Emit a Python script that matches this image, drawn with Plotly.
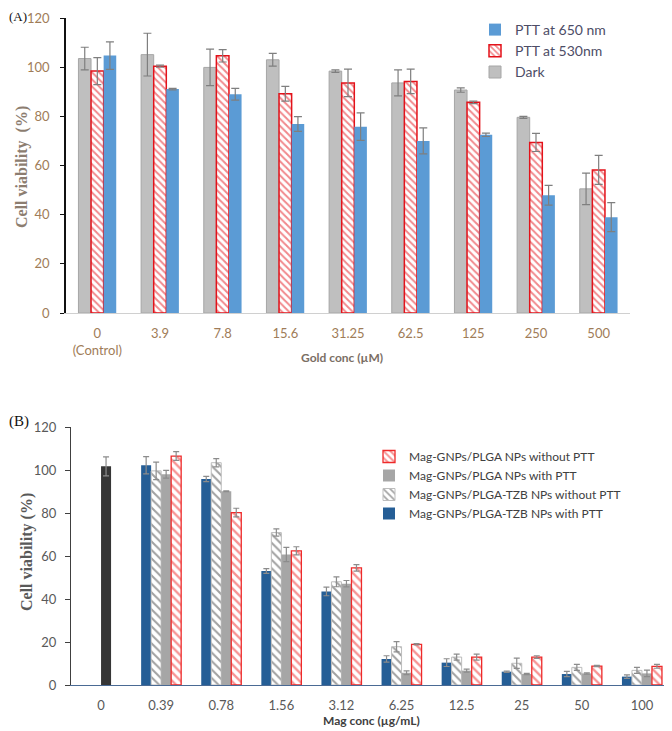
import plotly.graph_objects as go

# The page body has an 8px default margin, so the figure is sized to fill the
# remaining viewport and reference pixel coordinates are shifted by 8px.
PAGE_W, PAGE_H = 672, 731
OFF = 8
W, H = PAGE_W - OFF, PAGE_H - OFF


def X(px):
    return (px - OFF) / W


def Y(py):
    return 1 - (py - OFF) / H


# ---------------- Panel A data ----------------
a_cats = ["0<br>(Control)", "3.9", "7.8", "15.6", "31.25", "62.5", "125", "250", "500"]
a_dark = [103.5, 105.1, 99.9, 103.0, 98.4, 93.6, 90.7, 79.6, 50.5]
a_dark_err = [4.6, 8.7, 7.4, 2.6, 0.5, 5.3, 0.9, 0.4, 6.4]
a_530 = [98.4, 100.4, 104.6, 89.2, 93.6, 94.2, 85.7, 69.4, 58.2]
a_530_err = [5.5, 0.4, 2.5, 3.0, 5.6, 5.0, 0.5, 3.7, 5.9]
a_650 = [104.7, 91.1, 89.0, 76.9, 75.8, 70.0, 72.5, 47.9, 39.0]
a_650_err = [5.6, 0.3, 2.4, 3.0, 5.6, 5.3, 0.7, 4.0, 5.9]
a_yticks = [0, 20, 40, 60, 80, 100, 120]

# ---------------- Panel B data ----------------
b_cats = ["0", "0.39", "0.78", "1.56", "3.12", "6.25", "12.5", "25", "50", "100"]
b_control = [101.7]
b_control_err = [4.4]
b_tzb_ptt = [102.2, 95.8, 53.0, 43.5, 12.1, 10.4, 6.2, 5.1, 3.9]
b_tzb_ptt_err = [4.0, 1.2, 1.1, 2.0, 1.5, 1.8, 0.3, 1.2, 0.8]
b_tzb_noptt = [99.6, 103.4, 70.9, 48.0, 17.8, 13.0, 10.1, 8.2, 6.8]
b_tzb_noptt_err = [4.1, 1.9, 1.7, 2.3, 2.4, 1.4, 2.4, 1.4, 1.4]
b_plga_ptt = [98.0, 90.1, 60.7, 47.1, 5.7, 6.7, 5.1, 5.4, 5.4]
b_plga_ptt_err = [1.8, 0.2, 3.3, 1.5, 0.9, 0.7, 0.3, 0.3, 1.5]
b_plga_noptt = [106.5, 80.2, 62.4, 54.5, 18.9, 13.0, 13.0, 8.8, 8.7]
b_plga_noptt_err = [2.0, 2.0, 1.9, 1.5, 0.3, 1.4, 0.6, 0.3, 0.9]
b_yticks = [0, 20, 40, 60, 80, 100, 120]

fig = go.Figure()

# ---------- Panel A traces ----------
ea = dict(type="data", color="#7f7f7f", thickness=1.2, width=4)
wa = 0.201
fig.add_trace(go.Bar(
    x=a_cats, y=a_dark, name="Dark", legend="legend",
    error_y=dict(array=a_dark_err, **ea),
    marker=dict(color="#bfbfbf", line=dict(color="#a6a6a6", width=1)),
    width=wa, offset=-0.3015, xaxis="x", yaxis="y"))
fig.add_trace(go.Bar(
    x=a_cats, y=a_530, name="PTT at 530nm", legend="legend",
    error_y=dict(array=a_530_err, **ea),
    marker=dict(color="white", line=dict(color="#e3121a", width=1.5),
                pattern=dict(shape="\\", fgcolor="#e3121a", bgcolor="white",
                             size=5, solidity=0.4)),
    width=wa, offset=-0.1005, xaxis="x", yaxis="y"))
fig.add_trace(go.Bar(
    x=a_cats, y=a_650, name="PTT at 650 nm", legend="legend",
    error_y=dict(array=a_650_err, **ea),
    marker=dict(color="#5b9bd5", line=dict(width=0)),
    width=wa, offset=0.1005, xaxis="x", yaxis="y"))

# ---------- Panel B traces ----------
eb = dict(type="data", color="#8c8c8c", thickness=1.2, width=3)
wb = 0.1665
xb = b_cats[1:]
fig.add_trace(go.Bar(
    x=[b_cats[0]], y=b_control, name="Control", showlegend=False, legend="legend2",
    error_y=dict(array=b_control_err, **eb),
    marker=dict(color="#363636", line=dict(width=0)),
    width=wb, offset=0.0, xaxis="x2", yaxis="y2"))
fig.add_trace(go.Bar(
    x=xb, y=b_tzb_ptt, name="Mag-GNPs/PLGA-TZB NPs with PTT", legend="legend2",
    error_y=dict(array=b_tzb_ptt_err, **eb),
    marker=dict(color="#255e96", line=dict(width=0)),
    width=wb, offset=-0.333, xaxis="x2", yaxis="y2"))
fig.add_trace(go.Bar(
    x=xb, y=b_tzb_noptt, name="Mag-GNPs/PLGA-TZB NPs without PTT", legend="legend2",
    error_y=dict(array=b_tzb_noptt_err, **eb),
    marker=dict(color="white", line=dict(color="#bdbdbd", width=1),
                pattern=dict(shape="\\", fgcolor="#444444", bgcolor="white",
                             size=6, solidity=0.35)),
    width=wb, offset=-0.1665, xaxis="x2", yaxis="y2"))
fig.add_trace(go.Bar(
    x=xb, y=b_plga_ptt, name="Mag-GNPs/PLGA NPs with PTT", legend="legend2",
    error_y=dict(array=b_plga_ptt_err, **eb),
    marker=dict(color="#a6a6a6", line=dict(width=0)),
    width=wb, offset=0.0, xaxis="x2", yaxis="y2"))
fig.add_trace(go.Bar(
    x=xb, y=b_plga_noptt, name="Mag-GNPs/PLGA NPs without PTT", legend="legend2",
    error_y=dict(array=b_plga_noptt_err, **eb),
    marker=dict(color="white", line=dict(color="#ee2a2a", width=1.3),
                pattern=dict(shape="\\", fgcolor="#ee2a2a", bgcolor="white",
                             size=6, solidity=0.4)),
    width=wb, offset=0.1665, xaxis="x2", yaxis="y2"))

tickA = dict(family="Lato, Open Sans, sans-serif", size=13, color="#a07c58")
tickB = dict(family="Lato, Open Sans, sans-serif", size=13, color="#595959")

fig.update_layout(
    width=W, height=H,
    autosize=False,
    margin=dict(l=0, r=0, t=0, b=0, pad=0, autoexpand=False),
    paper_bgcolor="white", plot_bgcolor="white",
    barmode="overlay",
    showlegend=True,
    xaxis=dict(domain=[X(66), X(630)], anchor="y", type="category",
               categoryorder="array", categoryarray=a_cats,
               range=[-0.5, len(a_cats) - 0.5], automargin=False,
               showline=True, linecolor="#d0d0d0", linewidth=1.2,
               ticks="", tickfont=tickA, ticklabelstandoff=8,
               showgrid=False, zeroline=False, fixedrange=True),
    yaxis=dict(domain=[Y(313), Y(18)], anchor="x",
               range=[0, 120], tickvals=a_yticks, automargin=False,
               showline=True, linecolor="#111111", linewidth=1.5,
               ticks="outside", ticklen=4, tickcolor="#111111",
               tickfont=tickA, ticklabelstandoff=8,
               showgrid=False, zeroline=False, fixedrange=True),
    xaxis2=dict(domain=[X(71), 1.0], anchor="y2", type="category",
                categoryorder="array", categoryarray=b_cats,
                range=[-0.5, len(b_cats) - 0.5], automargin=False,
                showline=True, linecolor="#4a6a94", linewidth=1.3,
                ticks="", tickfont=tickB, ticklabelstandoff=8,
                showgrid=False, zeroline=False, fixedrange=True),
    yaxis2=dict(domain=[Y(685), Y(427)], anchor="x2",
                range=[0, 120], tickvals=b_yticks, automargin=False,
                showline=True, linecolor="#404040", linewidth=1.2,
                ticks="outside", ticklen=5, tickcolor="#404040",
                tickfont=tickB, ticklabelstandoff=6,
                showgrid=False, zeroline=False, fixedrange=True),
    legend=dict(x=X(475), y=Y(14), xanchor="left", yanchor="top",
                traceorder="reversed", bgcolor="rgba(0,0,0,0)",
                font=dict(family="Lato, Open Sans, sans-serif", size=14, color="#4d4d66"),
                itemclick=False, itemdoubleclick=False),
    legend2=dict(x=X(369), y=Y(442), xanchor="left", yanchor="top",
                 traceorder="reversed", bgcolor="rgba(0,0,0,0)",
                 font=dict(family="Lato, Open Sans, sans-serif", size=12, color="#404040"),
                 itemclick=False, itemdoubleclick=False),
    annotations=[
        dict(text="(A)", x=X(8), y=Y(8), xref="paper", yref="paper",
             xanchor="left", yanchor="top", showarrow=False, borderpad=0,
             font=dict(family="Liberation Serif, serif", size=13, color="#111111")),
        dict(text="(B)", x=X(8), y=Y(421), xref="paper", yref="paper",
             xanchor="left", yanchor="middle", showarrow=False, borderpad=0,
             font=dict(family="Liberation Serif, serif", size=15, color="#111111")),
        dict(text="<b>Cell viability  (%)</b>", x=X(22), y=Y(167),
             xref="paper", yref="paper", textangle=-90, showarrow=False,
             xanchor="center", yanchor="middle",
             font=dict(family="Liberation Serif, serif", size=16, color="#8c7d70")),
        dict(text="<b>Gold conc (µM)</b>", x=X(342), y=Y(357),
             xref="paper", yref="paper", showarrow=False,
             xanchor="center", yanchor="middle",
             font=dict(family="Lato, Open Sans, sans-serif", size=12, color="#7a6e64")),
        dict(text="<b>Cell viability (%)</b>", x=X(27), y=Y(552),
             xref="paper", yref="paper", textangle=-90, showarrow=False,
             xanchor="center", yanchor="middle",
             font=dict(family="Liberation Serif, serif", size=16, color="#595959")),
        dict(text="<b>Mag conc (µg/mL)</b>", x=X(371), y=Y(720),
             xref="paper", yref="paper", showarrow=False,
             xanchor="center", yanchor="middle",
             font=dict(family="Lato, Open Sans, sans-serif", size=12, color="#404040")),
    ],
)

fig.write_html("out.html")
